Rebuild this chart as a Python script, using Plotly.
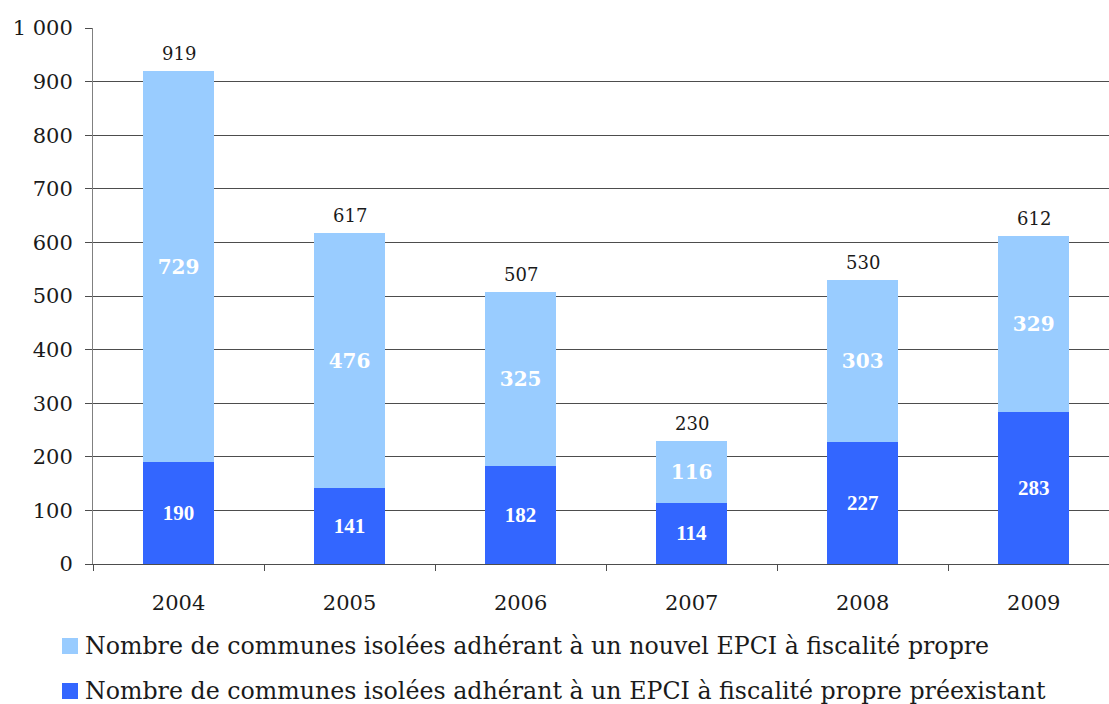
import plotly.graph_objects as go

years = ["2004", "2005", "2006", "2007", "2008", "2009"]
preexistant = [190, 141, 182, 114, 227, 283]
nouvel = [729, 476, 325, 116, 303, 329]
totals = [a + b for a, b in zip(preexistant, nouvel)]

name_nouvel = "Nombre de communes isolées adhérant à un nouvel EPCI à fiscalité propre"
name_pre = "Nombre de communes isolées adhérant à un EPCI à fiscalité propre préexistant"

COL_PRE = "#3366FF"
COL_NOUVEL = "#99CCFF"
SERIF = "Bookman Old Style, DejaVu Serif, serif"
W, H = 1109, 704

fig = go.Figure()
fig.add_trace(go.Bar(
    x=years, y=preexistant, name=name_pre,
    marker=dict(color=COL_PRE, line=dict(width=0)),
    width=0.415,
    text=[str(v) for v in preexistant], texttemplate="%{text}",
    textposition="inside", insidetextanchor="middle", textangle=0,
    textfont=dict(family="Liberation Serif, Times New Roman, serif", size=21, color="white", weight="bold"),
    constraintext="none",
))
fig.add_trace(go.Bar(
    x=years, y=nouvel, name=name_nouvel,
    marker=dict(color=COL_NOUVEL, line=dict(width=0)),
    width=0.415,
    text=[str(v) for v in nouvel], texttemplate="%{text}",
    textposition="inside", insidetextanchor="middle", textangle=0,
    textfont=dict(family="DejaVu Serif, serif", size=20, color="white", weight="bold"),
    constraintext="none",
))

# stack totals above each bar (category axis: position by index)
for i, tot in enumerate(totals):
    fig.add_annotation(x=i, y=tot, xref="x", yref="y", text=str(tot), showarrow=False,
                       yanchor="bottom", yshift=5,
                       font=dict(family=SERIF, size=18, color="#1a1a1a"))

# legend drawn below the plot, one row per series
legend_rows = [(name_nouvel, COL_NOUVEL, 646), (name_pre, COL_PRE, 691)]
for label, col, cy in legend_rows:
    fig.add_shape(type="rect", xref="paper", yref="paper",
                  x0=(62 - 93) / 1016, x1=(78 - 93) / 1016,
                  y0=(564 - (cy + 8)) / 536, y1=(564 - (cy - 8)) / 536,
                  fillcolor=col, line=dict(width=0), layer="above")
    fig.add_annotation(xref="paper", yref="paper",
                       x=(83 - 93) / 1016, y=(564 - cy) / 536,
                       xanchor="left", yanchor="middle", showarrow=False,
                       text=label,
                       font=dict(family=SERIF, size=23.7, color="#1a1a1a"))

fig.update_layout(
    barmode="stack",
    width=W, height=H,
    margin=dict(l=93, r=0, t=28, b=140, autoexpand=False),
    paper_bgcolor="white", plot_bgcolor="white",
    font=dict(family=SERIF, color="#1a1a1a"),
    showlegend=False,
)

fig.update_xaxes(
    type="category", range=[-0.5, 5.44],
    showline=True, linecolor="#4d4d4d", linewidth=1,
    ticks="outside", tickson="boundaries", ticklen=6, tickcolor="#4d4d4d",
    showgrid=False, ticklabelstandoff=20, tickangle=0,
    tickfont=dict(family=SERIF, size=21, color="#1a1a1a"),
)
fig.update_yaxes(
    range=[0, 1000], tickvals=[0, 100, 200, 300, 400, 500, 600, 700, 800, 900, 1000],
    ticktext=["0", "100", "200", "300", "400", "500", "600", "700", "800", "900", "1 000"],
    showline=True, linecolor="#808080", linewidth=1,
    ticks="outside", ticklen=7, tickcolor="#4d4d4d",
    showgrid=True, gridcolor="#4d4d4d", gridwidth=1,
    zeroline=False, ticklabelstandoff=8,
    tickfont=dict(family=SERIF, size=21, color="#1a1a1a"),
)

fig.write_html("out.html")
